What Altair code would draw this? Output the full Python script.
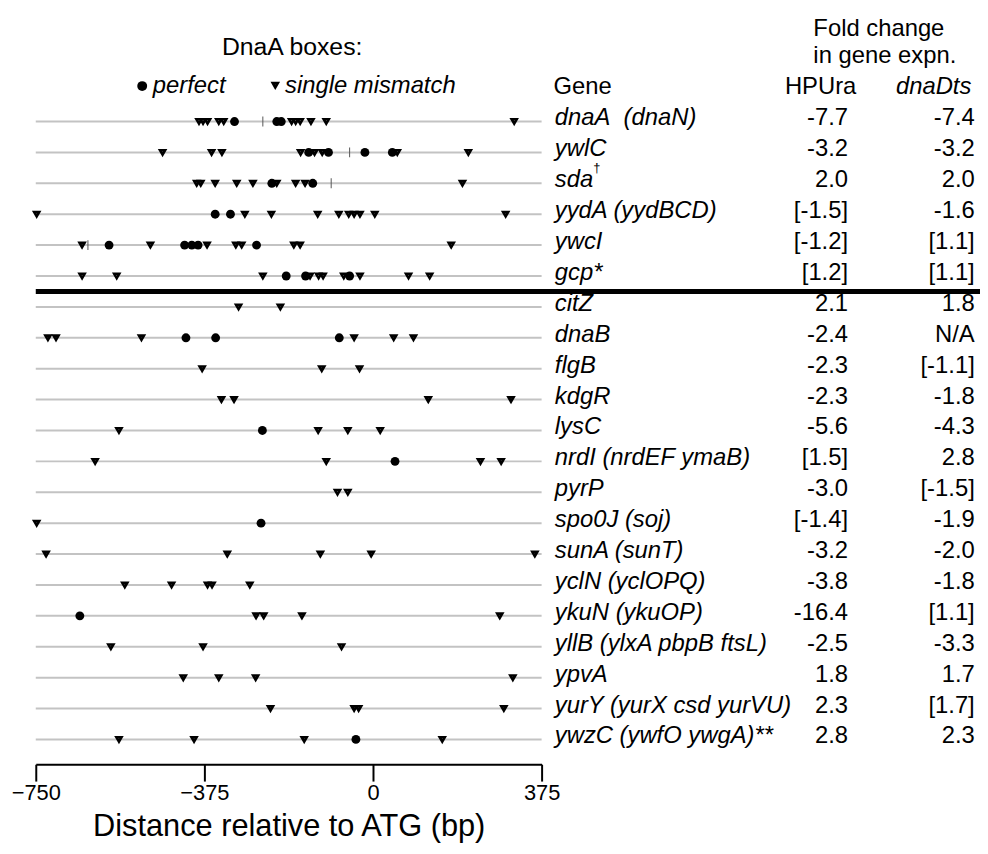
import altair as alt
import pandas as pd

FONT = "Liberation Sans"

GENES = ["dnaA\u00a0 (dnaN)", "ywlC", "sda", "yydA (yydBCD)", "ywcI", "gcp*",
         "citZ", "dnaB", "flgB", "kdgR", "lysC", "nrdI (nrdEF ymaB)", "pyrP",
         "spo0J (soj)", "sunA (sunT)", "yclN (yclOPQ)", "ykuN (ykuOP)",
         "yllB (ylxA pbpB ftsL)", "ypvA", "yurY (yurX csd yurVU)", "ywzC (ywfO ywgA)**"]
TOP_GROUP = 6  # number of genes above the thick separator

HPURA = ["-7.7", "-3.2", "2.0", "[-1.5]", "[-1.2]", "[1.2]", "2.1", "-2.4", "-2.3",
         "-2.3", "-5.6", "[1.5]", "-3.0", "[-1.4]", "-3.2", "-3.8", "-16.4", "-2.5",
         "1.8", "2.3", "2.8"]
DNADTS = ["-7.4", "-3.2", "2.0", "-1.6", "[1.1]", "[1.1]", "1.8", "N/A", "[-1.1]",
          "-1.8", "-4.3", "2.8", "[-1.5]", "-1.9", "-2.0", "-1.8", "[1.1]", "-3.3",
          "1.7", "[1.7]", "2.3"]

# DnaA box positions (bp relative to ATG), one list per gene
PERFECT = [
    [-308, -214, -204],
    [-143, -99, -18, 43],
    [-225, -134],
    [-351, -317],
    [-587, -419, -403, -389, -259],
    [-193, -150, -52],
    [],
    [-416, -350, -75],
    [],
    [],
    [-246],
    [49],
    [],
    [-249],
    [],
    [],
    [-652],
    [],
    [],
    [],
    [-38],
]
MISMATCH = [
    [-387, -378, -368, -343, -332, -181, -172, -162, -138, -104, 314],
    [-468, -359, -336, -161, -130, -113, 54, 212],
    [-392, -383, -351, -303, -267, -214, -172, -151, 199],
    [-748, -285, -226, -123, -76, -54, -42, -29, 4, 295],
    [-647, -495, -369, -305, -292, -176, -162, 174],
    [-647, -570, -245, -140, -121, -111, -65, -29, 79, 126],
    [-299, -206],
    [-723, -705, -515, -42, 46, 90],
    [-380, -114, -30],
    [-337, -309, 123, 307],
    [-565, -122, -56, 16],
    [-618, -104, 239, 285],
    [-79, -56],
    [-748],
    [-727, -324, -117, -4, 360],
    [-552, -448, -368, -358, -274],
    [-260, -243, -158, 282],
    [-583, -378, -70],
    [-422, -343, -261, 311],
    [-228, -42, -32, 291],
    [-565, -398, -153, 154],
]
# small vertical marks on some gene lines
MARK_ROWS = [0, 1, 2, 4]
MARK_POS = [-245, -52, -93, -634]

AXIS_MIN, AXIS_MAX = -750, 375
AXIS_TICKS = [-750, -375, 0, 375]

# ---------------- data frames ----------------
rows_df = pd.DataFrame({
    "row": list(range(len(GENES))),
    "gene": GENES,
    "hpura": HPURA,
    "dnadts": DNADTS,
    "x0": AXIS_MIN,
    "x1": AXIS_MAX,
})
perf_df = pd.DataFrame([{"row": i, "pos": p} for i, ps in enumerate(PERFECT) for p in ps])
mm_df = pd.DataFrame([{"row": i, "pos": p} for i, ps in enumerate(MISMATCH) for p in ps])
mark_df = pd.DataFrame({"row": MARK_ROWS, "pos": MARK_POS})

# ---------------- layout ----------------
W, H = 510, 759
ROW_PX = 31.15
ROW0_PX = 111
d0 = -ROW0_PX / ROW_PX
d1 = d0 + H / ROW_PX

xscale = alt.Scale(domain=[AXIS_MIN, AXIS_MAX], nice=False, zero=False)
yscale = alt.Scale(domain=[d0, d1], nice=False, zero=False, reverse=True)

xaxis = alt.Axis(values=AXIS_TICKS, format="d", grid=False, domainColor="black",
                 domainWidth=2, tickColor="black", tickWidth=2, tickSize=17,
                 labelFontSize=22, labelFont=FONT, labelColor="black", labelPadding=2,
                 labelFlush=False, labelOverlap=False,
                 title="Distance relative to ATG (bp)", titleFontSize=31, titleFont=FONT,
                 titleFontWeight="normal", titleColor="black", titlePadding=8)

lines = alt.Chart(rows_df).mark_rule(color="#c3c3c3", strokeWidth=2).encode(
    x=alt.X("x0:Q", scale=xscale, axis=xaxis),
    x2="x1:Q",
    y=alt.Y("row:Q", scale=yscale, axis=None),
)

vmarks = alt.Chart(mark_df).mark_tick(orient="vertical", size=10, thickness=1,
                                       color="#555555", opacity=1).encode(
    x=alt.X("pos:Q", scale=xscale), y=alt.Y("row:Q", scale=yscale))

TRI_SIZE = 26
TRI_STROKE = 2.6
tri = alt.Chart(mm_df).mark_point(shape="triangle-down", fill="white", stroke="black",
                                  strokeWidth=TRI_STROKE, size=TRI_SIZE, fillOpacity=1,
                                  strokeOpacity=1).encode(
    x=alt.X("pos:Q", scale=xscale), y=alt.Y("row:Q", scale=yscale))

circ = alt.Chart(perf_df).mark_circle(size=80, color="black", opacity=1).encode(
    x=alt.X("pos:Q", scale=xscale), y=alt.Y("row:Q", scale=yscale))

one = pd.DataFrame({"_": [0]})
sep = alt.Chart(one).mark_rule(color="black", strokeWidth=5).encode(
    x=alt.datum(AXIS_MIN, scale=xscale),
    x2=alt.value(952),
    y=alt.datum(TOP_GROUP - 0.5, scale=yscale),
)

gene_txt = alt.Chart(rows_df).mark_text(align="left", baseline="alphabetic", dy=4,
                                        fontSize=24, fontStyle="italic", font=FONT,
                                        color="black").encode(
    x=alt.value(523.3), y=alt.Y("row:Q", scale=yscale), text="gene:N")
hp_txt = alt.Chart(rows_df).mark_text(align="right", baseline="alphabetic", dy=4,
                                      fontSize=24, font=FONT, color="black").encode(
    x=alt.value(819), y=alt.Y("row:Q", scale=yscale), text="hpura:N")
dd_txt = alt.Chart(rows_df).mark_text(align="right", baseline="alphabetic", dy=4,
                                      fontSize=24, font=FONT, color="black").encode(
    x=alt.value(946.7), y=alt.Y("row:Q", scale=yscale), text="dnadts:N")
dagger = alt.Chart(one).mark_text(align="left", baseline="alphabetic", dy=-11,
                                  fontSize=13, font=FONT, color="black", text="\u2020").encode(
    x=alt.value(562), y=alt.datum(GENES.index("sda"), scale=yscale))


def label(text, x, y, size=24, align="left", style="normal"):
    return alt.Chart(pd.DataFrame({"t": [text]})).mark_text(
        align=align, baseline="alphabetic", fontSize=size, fontStyle=style,
        font=FONT, color="black").encode(x=alt.value(x), y=alt.value(y), text="t:N")


headers = [
    label("DnaA boxes:", 258.5, 43.7, size=25, align="center"),
    label("perfect", 118, 82.7, style="italic"),
    label("single mismatch", 251.3, 82.7, style="italic"),
    label("Fold change", 784, 24.5),
    label("in gene expn.", 784, 52),
    label("Gene", 522, 83.7),
    label("HPUra", 827.3, 83.7, align="right"),
    label("dnaDts", 943.3, 83.7, align="right", style="italic"),
]
leg_c = alt.Chart(one).mark_circle(size=100, color="black", opacity=1).encode(
    x=alt.value(107.3), y=alt.value(75.3))
leg_t = alt.Chart(one).mark_point(shape="triangle-down", fill="white", stroke="black",
                                  strokeWidth=TRI_STROKE, size=TRI_SIZE, fillOpacity=1,
                                  strokeOpacity=1).encode(
    x=alt.value(241.5), y=alt.value(74.5))

chart = alt.layer(lines, vmarks, tri, circ, sep, gene_txt, hp_txt, dd_txt, dagger,
                  leg_c, leg_t, *headers).properties(
    width=W, height=H,
    autosize=alt.AutoSizeParams(type="none"),
    padding={"left": 28, "top": 0, "right": 442, "bottom": 79},
    background="white",
).configure_view(stroke=None)

chart.save("out.html", embed_options={"renderer": "svg", "actions": False})
